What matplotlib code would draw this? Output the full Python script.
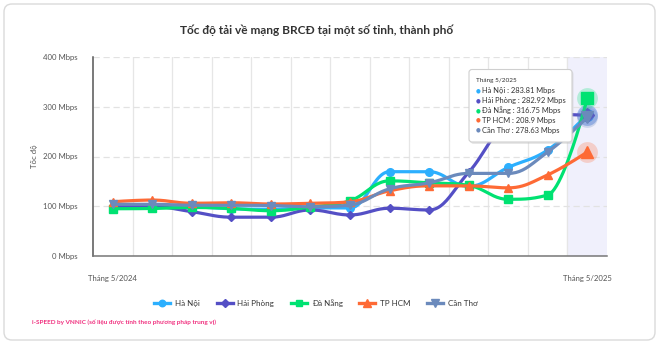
import matplotlib
matplotlib.use("Agg")
import matplotlib.pyplot as plt
import numpy as np
from matplotlib.lines import Line2D
from matplotlib.patches import FancyBboxPatch

plt.rcParams["font.family"] = ["Lato", "DejaVu Sans"]

months = ["Tháng 5/2024", "Tháng 6/2024", "Tháng 7/2024", "Tháng 8/2024",
          "Tháng 9/2024", "Tháng 10/2024", "Tháng 11/2024", "Tháng 12/2024",
          "Tháng 1/2025", "Tháng 2/2025", "Tháng 3/2025", "Tháng 4/2025",
          "Tháng 5/2025"]
ha_noi = [98, 98, 98.5, 95, 94, 97, 96.5, 169.5, 169.5, 140, 178, 213, 283.81]
hai_phong = [99, 99.5, 89, 78, 78, 92.5, 82.5, 96, 92.5, 168, 268, 285, 282.92]
da_nang = [95, 95.5, 97.5, 95.5, 91, 98.5, 111, 151, 147, 142, 114, 122.5, 316.75]
tp_hcm = [109, 112.5, 106, 107, 104.5, 106, 109, 131, 141, 141, 137, 163, 208.9]
can_tho = [104, 104, 102, 102, 101.5, 99, 102.5, 135, 147, 166, 166, 209, 278.63]

series_names = ["Hà Nội", "Hải Phòng", "Đà Nẵng", "TP HCM", "Cần Thơ"]
series_values = [ha_noi, hai_phong, da_nang, tp_hcm, can_tho]
colors = ["#2caffe", "#544fc5", "#00e272", "#fe6a35", "#6b8abc"]
markers = ["o", "D", "s", "^", "v"]
marker_sizes = [5.5, 4.5, 5.5, 6, 6]

W, H = 660, 345


def spline(xs, ys, steps=24):
    # Highcharts-style spline through the points
    xs = np.asarray(xs, float)
    ys = np.asarray(ys, float)
    n = len(xs)
    lc = [None] * n
    rc = [None] * n
    for i in range(1, n - 1):
        px, py = xs[i], ys[i]
        lx, ly = xs[i - 1], ys[i - 1]
        nx, ny = xs[i + 1], ys[i + 1]
        lcx, lcy = (1.5 * px + lx) / 2.5, (1.5 * py + ly) / 2.5
        rcx, rcy = (1.5 * px + nx) / 2.5, (1.5 * py + ny) / 2.5
        corr = ((rcy - lcy) * (rcx - px)) / (rcx - lcx) + py - rcy
        lcy += corr
        rcy += corr
        if lcy > ly and lcy > py:
            lcy = max(ly, py)
            rcy = 2 * py - lcy
        elif lcy < ly and lcy < py:
            lcy = min(ly, py)
            rcy = 2 * py - lcy
        if rcy > ny and rcy > py:
            rcy = max(ny, py)
            lcy = 2 * py - rcy
        elif rcy < ny and rcy < py:
            rcy = min(ny, py)
            lcy = 2 * py - rcy
        lc[i] = (lcx, lcy)
        rc[i] = (rcx, rcy)
    t = np.linspace(0, 1, steps)[:, None]
    out = []
    for i in range(1, n):
        p0 = np.array([xs[i - 1], ys[i - 1]])
        p3 = np.array([xs[i], ys[i]])
        p1 = np.array(rc[i - 1]) if rc[i - 1] is not None else p0
        p2 = np.array(lc[i]) if lc[i] is not None else p3
        seg = ((1 - t) ** 3) * p0 + 3 * ((1 - t) ** 2) * t * p1 + 3 * (1 - t) * t ** 2 * p2 + t ** 3 * p3
        out.append(seg if i == 1 else seg[1:])
    pts = np.vstack(out)
    return pts[:, 0], pts[:, 1]


fig = plt.figure(figsize=(6.6, 3.45), dpi=100)

# background card
bg = fig.add_axes([0, 0, 1, 1])
bg.set_xlim(0, W)
bg.set_ylim(H, 0)
bg.axis("off")
bg.set_zorder(0)
bg.add_patch(FancyBboxPatch((4, 4), 651, 336, boxstyle="round,pad=0,rounding_size=8",
                            facecolor="white", edgecolor="#dadada", lw=1.0))

ax = fig.add_axes([93 / W, 1 - 256 / H, 514 / W, 199 / H])
ax.set_zorder(1)
ax.patch.set_alpha(0)

x = np.arange(len(months))
ax.axvspan(11.5, 12.5, color="#f0f0fc", zorder=0)

for i, (name, vals) in enumerate(zip(series_names, series_values)):
    sx, sy = spline(x, vals)
    z = 3 + i
    ax.plot(sx, sy, color=colors[i], lw=2.3, solid_capstyle="round", zorder=z)
    ax.plot(x[:-1], vals[:-1], linestyle="none", marker=markers[i],
            ms=marker_sizes[i], color=colors[i], mec=colors[i], zorder=z)
    ax.plot(x[-1:], vals[-1:], linestyle="none", marker="o", ms=15,
            color=colors[i], alpha=0.25, mew=0, zorder=z)
    ax.plot(x[-1:], vals[-1:], linestyle="none", marker=markers[i],
            ms=marker_sizes[i] * 1.55, color=colors[i], mec=colors[i], zorder=z + 0.5)

ax.set_xlim(-0.5, 12.5)
ax.set_ylim(0, 400)
ax.set_yticks([0, 100, 200, 300, 400])
ax.set_yticklabels([f"{v} Mbps" for v in [0, 100, 200, 300, 400]])
ax.set_xticks([0, 12])
ax.set_xticklabels([months[0], months[-1]])
ax.set_xticks(np.arange(0.5, 12, 1), minor=True)
ax.tick_params(axis="both", which="both", length=0, labelsize=5.6, colors="#555555")
ax.tick_params(axis="y", pad=11)
ax.tick_params(axis="x", pad=14)
ax.grid(axis="y", which="major", color="#e2e2e2", lw=0.9, linestyle=(0, (5, 3)))
ax.grid(axis="x", which="minor", color="#e6e6e6", lw=0.9)
ax.grid(axis="x", which="major", visible=False)
ax.set_axisbelow(True)
for s in ["top", "right"]:
    ax.spines[s].set_visible(False)
ax.spines["left"].set_color("#555555")
ax.spines["bottom"].set_color("#777777")
ax.spines["left"].set_linewidth(1.1)
ax.spines["bottom"].set_linewidth(1.1)

# overlay for texts and tooltip
fg = fig.add_axes([0, 0, 1, 1])
fg.set_xlim(0, W)
fg.set_ylim(H, 0)
fg.axis("off")
fg.set_zorder(5)
fg.patch.set_alpha(0)

fg.text(317, 30, "Tốc độ tải về mạng BRCĐ tại một số tỉnh, thành phố",
        ha="center", va="center", fontsize=8.6, fontweight="bold", color="#333333")
fg.text(35, 156, "Tốc độ", rotation=90, ha="center", va="center",
        fontsize=5.6, color="#555555")
fg.text(32, 322, "i-SPEED by VNNIC (số liệu được tính theo phương pháp trung vị)",
        ha="left", va="center", fontsize=4.6, fontweight="bold", color="#f0307f")

# tooltip
fg.add_patch(FancyBboxPatch((470.5, 71), 103, 73, boxstyle="round,pad=0,rounding_size=3",
                            facecolor="#bbbbbb", edgecolor="none", alpha=0.35))
fg.add_patch(FancyBboxPatch((469, 69.5), 103, 72.5, boxstyle="round,pad=0,rounding_size=3",
                            facecolor="white", edgecolor="#cfcfcf", lw=0.8))
fg.text(476, 80.5, months[-1], fontsize=4.6, color="#333333", va="center")
for i, (name, vals) in enumerate(zip(series_names, series_values)):
    yy = 90.7 + i * 9.9
    fg.text(478, yy, "●", fontsize=4.0, color=colors[i], ha="center", va="center",
            family="DejaVu Sans")
    fg.text(482.5, yy, f"{name} : {vals[-1]} Mbps", fontsize=5.4, color="#333333", va="center")

handles = [Line2D([], [], color=c, lw=2.4, marker=m, ms=ms * 0.85)
           for c, m, ms in zip(colors, markers, marker_sizes)]
fig.legend(handles, series_names, loc="center", bbox_to_anchor=(316 / W, 1 - 303 / H),
           ncol=5, frameon=False, fontsize=5.8, handlelength=2.0, handletextpad=0.6,
           columnspacing=2.05, labelcolor="#333333")

fig.savefig("out.png", dpi=100)
